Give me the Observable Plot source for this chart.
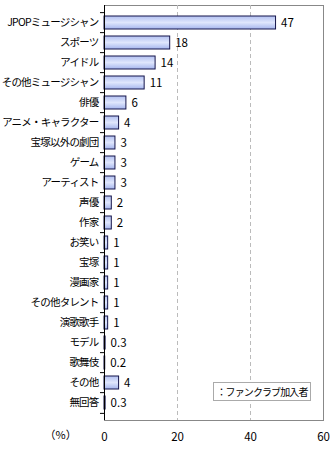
<!DOCTYPE html>
<html><head><meta charset="utf-8">
<script src="https://cdn.jsdelivr.net/npm/d3@7"></script>
<script src="https://cdn.jsdelivr.net/npm/@observablehq/plot@0.6"></script>
<style>
body{margin:0;background:#fff;}
#wrap{position:relative;width:335px;height:450px;font-family:"Noto Sans CJK JP",sans-serif;}
#legend{position:absolute;left:213px;top:382px;width:96px;height:17px;border:1px solid #aaa;background:#fff;font-size:10px;letter-spacing:-0.9px;line-height:17px;text-align:center;color:#000;white-space:nowrap;}
g[aria-label="y-axis tick label"] text{letter-spacing:-0.8px;}
</style></head>
<body><div id="wrap"><div id="legend">：ファンクラブ加入者</div></div>
<script>
const categories = ["JPOPミュージシャン","スポーツ","アイドル","その他ミュージシャン","俳優","アニメ・キャラクター","宝塚以外の劇団","ゲーム","アーティスト","声優","作家","お笑い","宝塚","漫画家","その他タレント","演歌歌手","モデル","歌舞伎","その他","無回答"];
const values = [47,18,14,11,6,4,3,3,3,2,2,1,1,1,1,1,0.3,0.2,4,0.3];
const valueLabels = ["47","18","14","11","6","4","3","3","3","2","2","1","1","1","1","1","0.3","0.2","4","0.3"];
const xTicks = [0,20,40,60];
const unitLabel = "（%）";

const data = categories.map((c,i)=>({cat:c, v:values[i], label:valueLabels[i]}));

const defs = () => {
  const d = d3.create("svg:defs");
  const g = d.append("linearGradient").attr("id","barGrad").attr("x1",0).attr("y1",0).attr("x2",0).attr("y2",1);
  g.append("stop").attr("offset","0%").attr("stop-color","#b2c0f1");
  g.append("stop").attr("offset","50%").attr("stop-color","#dfe6fc");
  g.append("stop").attr("offset","100%").attr("stop-color","#a6b6ee");
  return d.node();
};

const step = 415/20;
const chart = Plot.plot({
  width:335, height:450,
  marginLeft:104, marginRight:12, marginTop:5, marginBottom:30,
  style:{fontFamily:"'Noto Sans CJK JP', sans-serif", fontSize:"11px", color:"#000", background:"#fff"},
  x:{domain:[0,60], ticks:xTicks},
  y:{domain:categories, paddingInner:0.37, paddingOuter:0.185},
  marks:[
    defs,
    Plot.frame({stroke:"#888"}),
    Plot.ruleX([20,40], {stroke:"#bbb", strokeDasharray:"4,3"}),
    Plot.barX(data, {y:"cat", x:"v", fill:"url(#barGrad)", stroke:"#14144a", strokeWidth:1}),
    Plot.text(data, {y:"cat", x:"v", text:"label", textAnchor:"start", dx:5, fill:"#000", fontSize:11.5}),
    Plot.ruleX([0], {stroke:"#000"}),
    Plot.ruleY(categories, {y:d=>d, x1:-1.1, x2:0, dy:-step/2, stroke:"#000"}),
    Plot.ruleY([categories[categories.length-1]], {y:d=>d, x1:-1.1, x2:0, dy:step/2, stroke:"#000"}),
    Plot.axisY({tickSize:0, tickPadding:6, label:null, fontSize:10.5}),
    Plot.axisX({tickSize:0, tickPadding:12, label:null, fontSize:11.5}),
    Plot.text([unitLabel], {frameAnchor:"bottom-left", dx:-60, dy:18, fontSize:11, fill:"#000"})
  ]
});
document.getElementById("wrap").prepend(chart);
</script></body></html>
